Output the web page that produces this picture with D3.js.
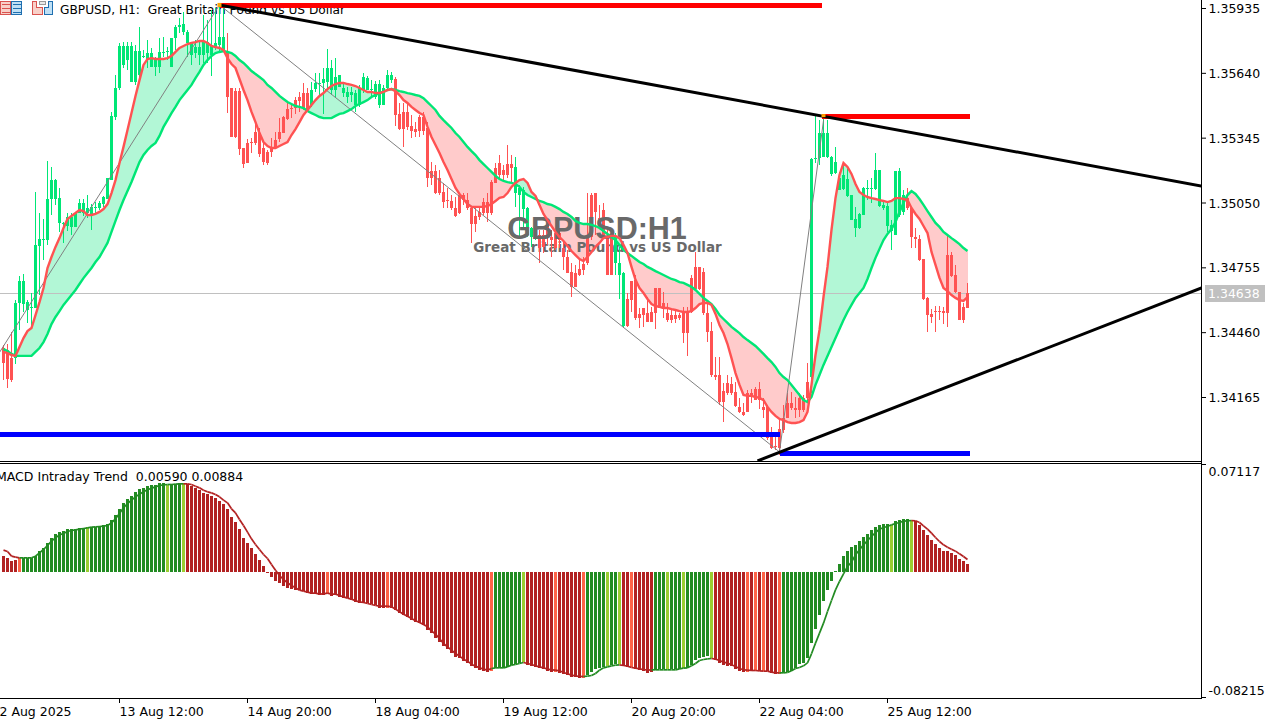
<!DOCTYPE html>
<html><head><meta charset="utf-8">
<script src="https://cdn.jsdelivr.net/npm/d3@7/dist/d3.min.js"></script>
<style>html,body{margin:0;padding:0;background:#fff;overflow:hidden}svg{display:block}
text{font-family:"DejaVu Sans",sans-serif;font-size:12.5px;fill:#000}</style>
</head><body><svg id="c" width="1279" height="723"></svg>
<script>
// prices are stored in points above 1.34000 (1 point = 0.00001)
const priceBase = 1.34;
const highs = [402,406,461,606,716,725,606,638,1098,1002,
975,1239,1212,1157,1116,961,1002,1002,1002,1066,
1066,1084,1043,1052,1057,1080,1161,1462,1630,1776,
1780,1780,1780,1767,1848,1744,1789,1753,1712,1798,
1803,1757,1798,1858,1889,1917,1835,1780,1789,1780,
1903,1880,1926,1935,1958,1949,1821,1571,1571,1571,
1298,1339,1343,1412,1389,1334,1289,1343,1371,1434,
1444,1503,1503,1530,1553,1594,1571,1598,1639,1639,
1662,1748,1698,1707,1630,1594,1576,1576,1562,1585,
1639,1626,1607,1603,1607,1585,1653,1644,1621,1503,
1503,1503,1448,1416,1448,1462,1416,1234,1221,1198,
1139,1116,1084,1075,1093,1093,1093,1025,1030,1030,
1071,1093,1152,1230,1266,1221,1312,1266,1257,1130,
1120,1029,939,970,925,925,970,925,925,925,
879,834,775,766,788,802,1093,1093,1093,1039,
1048,934,911,911,848,734,638,693,720,570,
570,620,575,661,661,643,593,561,561,547,
575,575,720,825,756,752,593,506,347,347,
229,265,256,233,160,138,197,201,210,233,
160,129,28,1,70,129,183,188,165,183,
174,320,1253,1444,1425,1430,1425,1262,1303,1189,
1230,1207,1084,1030,1002,1120,1152,1161,1275,1198,
1061,1052,970,1193,1207,1107,1116,1025,934,902,
793,620,565,579,579,575,902,825,766,643,593,684];
const opens = [388,379,342,342,593,588,561,570,570,852,
879,879,1066,1066,957,952,943,939,939,1002,
1002,1002,993,1025,1025,1043,1066,1152,1439,1571,
1676,1698,1598,1598,1630,1712,1703,1667,1667,1667,
1730,1735,1667,1798,1848,1826,1776,1721,1730,1721,
1721,1730,1721,1753,1767,1744,1735,1571,1557,1557,
1298,1321,1325,1371,1366,1298,1280,1303,1334,1371,
1439,1476,1480,1516,1530,1548,1548,1494,1566,1589,
1594,1598,1562,1562,1576,1548,1530,1539,1494,1494,
1562,1562,1562,1530,1494,1494,1571,1607,1612,1453,
1462,1462,1398,1384,1439,1439,1389,1193,1193,1161,
1098,1061,1057,1025,1084,1084,1061,1025,989,1007,
1052,1052,1143,1207,1230,1198,1225,1225,1093,1084,
1020,902,893,893,902,902,970,893,911,911,
843,802,734,729,748,770,893,1084,1093,980,
1016,893,893,775,720,488,611,693,698,543,
570,547,552,661,661,593,547,538,538,538,
547,552,706,756,756,734,547,465,265,265,
192,229,224,188,120,97,183,183,201,201,
120,120,-17,-58,19,70,138,138,115,160,
160,233,256,1248,1253,1257,1257,1180,1184,1107,
1112,1080,970,934,934,993,1112,1112,1112,1034,
1025,943,920,902,993,1007,1071,1025,893,884,
793,615,543,556,556,556,811,811,720,643,575,570];
const closes = [320,247,242,593,693,693,597,575,857,884,
884,1066,1152,1152,1071,957,984,984,1002,1048,
1048,1025,1030,1030,1048,1075,1161,1444,1571,1762,
1762,1762,1762,1739,1739,1717,1730,1730,1707,1735,
1735,1739,1798,1848,1858,1862,1826,1776,1757,1757,
1785,1780,1767,1775,1803,1803,1530,1348,1348,1293,
1225,1230,1321,1321,1271,1234,1230,1280,1298,1339,
1366,1430,1476,1480,1512,1480,1462,1562,1594,1594,
1612,1662,1662,1621,1630,1571,1553,1553,1548,1571,
1621,1616,1566,1589,1589,1571,1630,1630,1448,1384,
1384,1393,1375,1371,1375,1375,1161,1161,1093,1093,
1052,1057,1025,989,1002,1061,1025,952,952,984,
1002,1002,1002,1139,1175,1175,1175,1207,1211,1116,
1107,1025,934,970,843,848,893,879,843,879,
802,729,665,665,720,743,775,893,1007,948,
893,720,720,893,775,729,488,606,525,525,
538,506,506,547,570,565,515,515,520,525,
456,456,552,656,656,547,461,265,256,142,
142,183,183,124,97,83,97,174,151,151,
106,-22,-67,-62,-67,15,70,115,106,106,
106,160,1248,1253,1366,1366,1366,1257,1234,1161,
1175,1157,1084,975,998,1116,1116,1116,1198,1198,
1039,1034,948,1193,1193,1084,1025,893,884,788,
611,538,529,552,552,547,547,716,643,515,515,638];
const lows = [242,206,233,315,470,552,502,479,570,629,
788,857,993,1039,916,866,920,902,939,1002,
989,980,925,993,1016,1030,1066,1152,1425,1562,
1662,1653,1598,1585,1621,1707,1662,1667,1626,1639,
1712,1698,1667,1744,1821,1812,1712,1676,1707,1676,
1685,1685,1626,1744,1735,1735,1457,1348,1343,1266,
1207,1230,1275,1312,1257,1221,1221,1257,1293,1325,
1366,1425,1434,1453,1462,1471,1462,1485,1553,1539,
1453,1562,1539,1525,1576,1530,1503,1507,1462,1485,
1548,1562,1530,1521,1480,1494,1562,1594,1398,1380,
1303,1380,1343,1348,1348,1357,1120,1130,1089,1084,
1025,1025,1016,984,998,1039,1016,866,916,970,
993,961,993,1139,1161,1152,1161,1143,1029,893,
939,893,848,879,775,820,857,802,834,843,
743,729,620,665,716,720,766,879,902,939,
893,720,720,720,611,479,484,552,516,479,
484,506,506,474,570,524,506,502,502,515,
411,351,547,652,652,538,415,256,242,129,
51,174,174,120,92,79,97,138,151,110,
70,-31,-72,-76,-99,1,70,106,70,74,
97,151,183,1230,1221,1257,1253,1171,1180,1107,
1107,1075,970,893,929,993,1061,1048,1107,1030,
1016,916,834,902,984,993,1016,843,843,784,
606,461,502,461,515,497,484,711,638,515,502,570];
const fastMA = [370,365,356,352,393,433,465,479,538,597,
661,752,802,848,888,934,975,989,1002,1016,
1011,993,993,998,1007,1020,1043,1093,1152,1230,
1303,1380,1457,1535,1607,1676,1703,1707,1703,1703,
1703,1707,1717,1735,1753,1762,1771,1776,1780,1785,
1785,1776,1762,1757,1753,1744,1707,1680,1662,1612,
1562,1516,1462,1416,1366,1325,1307,1298,1298,1307,
1316,1325,1357,1384,1416,1448,1471,1494,1516,1535,
1548,1566,1580,1589,1594,1594,1589,1585,1580,1571,
1562,1553,1553,1548,1548,1553,1562,1566,1557,1539,
1516,1503,1485,1471,1457,1448,1394,1348,1312,1275,
1234,1198,1157,1116,1089,1066,1043,1030,1030,1030,
1030,1034,1043,1057,1071,1075,1093,1121,1139,1152,
1157,1139,1098,1080,1039,998,970,943,916,893,
875,852,829,811,793,784,802,825,848,866,
888,893,898,898,888,857,820,757,698,661,
638,611,588,579,575,570,570,565,561,556,
552,552,556,570,588,593,593,584,543,493,
456,406,342,274,220,174,170,170,165,161,
151,120,97,79,65,60,51,47,47,51,
60,97,220,356,470,620,757,925,1070,1175,
1230,1212,1180,1134,1098,1084,1075,1070,1066,1061,
1057,1052,1057,1070,1070,1066,1061,1025,998,975,
943,911,825,766,707,661,647,629,616,606,602,620];
const slowMA = [383,374,361,352,352,352,352,352,370,388,
415,452,497,529,556,584,606,629,652,679,
706,729,752,779,802,834,866,916,966,1016,
1061,1102,1143,1189,1234,1266,1289,1307,1321,1353,
1394,1425,1457,1485,1516,1539,1562,1585,1616,1644,
1676,1698,1717,1730,1735,1739,1735,1730,1717,1698,
1685,1667,1648,1635,1621,1607,1585,1571,1553,1535,
1521,1507,1498,1489,1485,1480,1466,1457,1448,1439,
1434,1434,1434,1444,1453,1457,1466,1475,1489,1498,
1507,1516,1530,1539,1548,1553,1562,1566,1562,1557,
1553,1548,1544,1539,1535,1525,1507,1489,1471,1444,
1425,1407,1389,1366,1348,1325,1303,1284,1266,1243,
1225,1207,1189,1171,1157,1148,1143,1139,1134,1121,
1098,1084,1075,1066,1057,1052,1043,1039,1030,1020,
1007,998,984,966,957,952,952,948,943,934,
920,907,893,879,857,834,820,807,793,779,
770,757,748,738,729,720,711,702,697,688,
684,675,666,652,634,616,602,588,566,538,
520,502,484,470,456,438,424,411,397,379,
361,342,324,302,274,256,242,220,197,174,
151,142,165,220,265,311,352,393,433,474,
515,552,584,616,638,661,702,752,798,839,
879,907,929,961,1007,1048,1084,1102,1089,1066,
1039,1011,984,957,939,916,902,888,875,861,843,829];
// candle colour runs: [bar count, trend]
const candleTrendRuns = [[3,"down"],[53,"up"],[21,"down"],[21,"up"],[30,"down"],[6,"up"],[19,"down"],[3,"up"],[46,"down"],[24,"up"],[16,"down"]];
// MACD values in 0.00001 units
const macdHist = [1120,1003,770,817,957,1003,1003,1003,1120,1470,
1703,2053,2403,2637,2823,2870,2987,2987,3033,3057,
3103,3150,3150,3150,3220,3267,3337,3617,3967,4433,
4853,5133,5320,5623,5787,5903,6020,6090,6090,6207,
6207,6067,6137,6137,6207,6207,6137,6020,5857,5717,
5553,5437,5320,5157,4970,4737,4387,3873,3500,3033,
2403,2053,1703,1237,817,420,25,-327,-630,-747,
-980,-1097,-1213,-1260,-1283,-1330,-1447,-1517,-1517,-1610,
-1610,-1517,-1657,-1610,-1727,-1797,-1843,-1960,-2077,-2147,
-2147,-2193,-2263,-2310,-2497,-2497,-2497,-2497,-2660,-2847,
-3010,-3127,-3360,-3523,-3593,-3710,-4060,-4293,-4597,-4877,
-5180,-5390,-5647,-5927,-6043,-6230,-6347,-6580,-6743,-6860,
-6930,-6977,-6930,-6743,-6743,-6743,-6627,-6510,-6463,-6393,
-6323,-6510,-6557,-6627,-6743,-6790,-6907,-6977,-6977,-7047,
-7140,-7210,-7327,-7373,-7443,-7443,-7210,-6977,-6813,-6743,
-6673,-6580,-6510,-6440,-6463,-6580,-6627,-6673,-6813,-6860,
-6907,-7047,-7000,-6837,-6790,-6790,-6790,-6790,-6790,-6767,
-6697,-6697,-6487,-6183,-5997,-5950,-5903,-6020,-6183,-6370,
-6533,-6557,-6603,-6790,-6953,-7000,-7023,-6907,-6907,-6907,
-6907,-6907,-7070,-7140,-7140,-7070,-7023,-6953,-6720,-6417,
-6370,-6043,-4970,-3967,-3033,-2053,-1283,-607,93,583,
1097,1447,1727,1867,2147,2427,2660,2917,3173,3313,
3383,3383,3313,3593,3663,3733,3733,3663,3593,3313,
2963,2613,2263,1983,1680,1447,1447,1330,1213,933,747,590];
const macdSignal = [1540,1447,1120,1050,1003,1003,1003,1003,1120,1353,
1587,1867,2170,2403,2613,2707,2847,2917,2963,3010,
3057,3103,3150,3173,3197,3220,3267,3453,3733,4107,
4503,4807,5040,5273,5460,5623,5763,5880,5973,6067,
6113,6137,6137,6160,6183,6183,6183,6137,6020,5903,
5740,5623,5553,5437,5273,5040,4853,4433,4153,3687,
3267,2800,2333,1937,1587,1237,957,537,140,-233,
-513,-747,-933,-1097,-1260,-1330,-1400,-1470,-1470,-1540,
-1517,-1470,-1540,-1540,-1633,-1727,-1820,-1890,-2007,-2077,
-2123,-2193,-2263,-2333,-2380,-2380,-2380,-2427,-2590,-2777,
-2940,-3080,-3243,-3407,-3523,-3663,-3827,-4107,-4340,-4643,
-4993,-5227,-5460,-5693,-5880,-6090,-6230,-6440,-6580,-6697,
-6790,-6860,-6743,-6697,-6697,-6697,-6627,-6510,-6463,-6393,
-6323,-6393,-6463,-6557,-6627,-6697,-6790,-6837,-6860,-6907,
-7023,-7117,-7210,-7257,-7303,-7303,-7280,-7233,-7093,-6860,
-6697,-6627,-6557,-6510,-6487,-6533,-6580,-6673,-6720,-6767,
-6813,-6860,-6837,-6837,-6837,-6837,-6837,-6837,-6837,-6767,
-6720,-6697,-6557,-6393,-6183,-6113,-6067,-6043,-6090,-6183,
-6300,-6370,-6487,-6603,-6743,-6837,-6860,-6883,-6883,-6907,
-6930,-6930,-7000,-7047,-7047,-7047,-7023,-6907,-6743,-6673,
-6557,-6347,-5717,-4970,-4270,-3570,-2753,-1983,-1237,-653,
-117,397,700,1213,1563,1913,2217,2497,2777,3010,
3127,3197,3313,3407,3477,3570,3593,3617,3593,3477,
3243,3010,2730,2427,2147,1913,1750,1610,1470,1283,1097,884];
// MACD bar state runs: R falling strong, T falling weak, G rising strong, Y rising weak
const macdStateRuns = [[4,"R"],[1,"T"],[16,"G"],[1,"Y"],[19,"G"],[1,"Y"],[3,"G"],[1,"Y"],[35,"R"],[1,"T"],[14,"R"],[1,"T"],[25,"R"],[1,"T"],[7,"G"],[1,"Y"],[7,"R"],[1,"T"],[6,"R"],[1,"T"],[5,"G"],[1,"Y"],[2,"G"],[1,"Y"],[2,"R"],[1,"T"],[5,"R"],[3,"G"],[1,"Y"],[3,"G"],[1,"Y"],[6,"G"],[1,"Y"],[8,"R"],[1,"T"],[1,"R"],[1,"T"],[1,"R"],[1,"T"],[3,"R"],[1,"T"],[27,"G"],[1,"Y"],[4,"G"],[1,"Y"],[14,"R"]];
const priceTicks = [1.35935,1.3564,1.35345,1.3505,1.34755,1.3446,1.34165];
const macdTicks = [0.07117,-0.08215];
const timeTickIndex = [-3,29,61,93,125,157,189,221];
const timeTickLabels = ["12 Aug 2025","13 Aug 12:00","14 Aug 20:00","18 Aug 04:00","19 Aug 12:00","20 Aug 20:00","22 Aug 04:00","25 Aug 12:00"];
const zigzagIndex = [-1,54,194,205];
const zigzagPts = [368,1949,-85,1423];
const supportBars = [[-1,194,-3],[194,241.5,-90]];
const resistBars = [[54,204.5,1949],[204.5,241.5,1443]];
const trendLines = [[54,1949,299.5,1125],[188.5,-126,299.5,661]];
const bidPts = 638;
const hist = macdHist.map(v=>v/1e5), sig = macdSignal.map(v=>v/1e5);
const P = v=>priceBase+v/1e5;
const expand = r=>d3.merge(r.map(([n,s])=>d3.range(n).map(()=>s)));
const trend = expand(candleTrendRuns), states = expand(macdStateRuns);

const GREEN="#00E676",RED="#FF5252",GFILL="#B2F7D6",RFILL="#FFCBCB";
const stateColor={R:"#B22222",T:"#FF6347",G:"#228B22",Y:"#9ACD32"};
const svg=d3.select("#c");
const X=1201, TOP_B=461, LOW_T=464, LOW_B=698;
const x=d3.scaleLinear().domain([0,241]).range([3,967]);
const y=d3.scaleLinear().domain([1.35935,1.34165]).range([8,397]);
const ym=d3.scaleLinear().domain([0.07117,-0.08215]).range([470.5,689.5]);
const fmt=d3.format(".5f"), asciiFmt=v=>fmt(v).replace("\u2212","-");
const defs=svg.append("defs");
defs.append("clipPath").attr("id","p1").append("rect").attr("x",0).attr("y",0).attr("width",X).attr("height",TOP_B);
defs.append("clipPath").attr("id","p2").append("rect").attr("x",0).attr("y",LOW_T).attr("width",X).attr("height",LOW_B-LOW_T);
const g=svg.append("g").attr("clip-path","url(#p1)");
const cx=i=>x(i)+0.5;

// filled band between moving averages
const band=d3.area().x(d=>cx(d.i)).y0(d=>y(P(d.f))).y1(d=>y(P(d.s)));
d3.range(241).forEach(i=>{
  const a={i,f:fastMA[i],s:slowMA[i]},b={i:i+1,f:fastMA[i+1],s:slowMA[i+1]};
  const up=(a.f+b.f)>=(a.s+b.s);
  g.append("path").attr("d",band([a,b])).attr("fill",up?GFILL:RFILL).attr("shape-rendering","crispEdges");
});
// bid line
g.append("line").attr("x1",0).attr("x2",X).attr("y1",Math.floor(y(P(bidPts)))+0.5).attr("y2",Math.floor(y(P(bidPts)))+0.5).attr("stroke","#C0C0C0");
// subtitle + header sit under the candles
g.append("text").attr("x",597.5).attr("y",251.5).attr("text-anchor","middle").style("font-family","'DejaVu Sans'").style("font-weight","bold").style("font-size","13.5px").style("fill","#696969").text("Great Britain Pound vs US Dollar");
g.append("text").attr("x",60).attr("y",14).style("font-size","12.2px").attr("xml:space","preserve").text("GBPUSD, H1:  Great Britain Pound vs US Dollar");

// candles
const cg=g.append("g").attr("shape-rendering","crispEdges");
d3.range(242).forEach(i=>{
  const c=trend[i]==="up"?GREEN:RED;
  const yh=y(P(highs[i])),yl=y(P(lows[i]));
  const t=y(P(Math.max(opens[i],closes[i]))),b=y(P(Math.min(opens[i],closes[i])));
  cg.append("rect").attr("x",x(i)).attr("y",yh).attr("width",1).attr("height",Math.max(1,yl-yh)).attr("fill",c);
  cg.append("rect").attr("x",x(i)-1).attr("y",t).attr("width",3).attr("height",Math.max(1,b-t)).attr("fill",c);
});
// title above candles, below lines
g.append("text").attr("x",597).attr("y",239).attr("text-anchor","middle").style("font-family","'Liberation Sans'").style("font-weight","bold").style("font-size","30.5px").style("fill","#696969").text("GBPUSD:H1");
// zigzag
g.append("path").attr("fill","none").attr("stroke","#808080").attr("stroke-width",1)
 .attr("d",d3.line().x((d,k)=>cx(zigzagIndex[k])).y(d=>y(P(d)))(zigzagPts));
// moving averages
const ma=d3.line().x((d,i)=>cx(i)).y(d=>y(P(d)));
g.append("path").attr("fill","none").attr("stroke",GREEN).attr("stroke-width",2.4).attr("d",ma(slowMA));
g.append("path").attr("fill","none").attr("stroke",RED).attr("stroke-width",2.4).attr("d",ma(fastMA));
// level bars
const lv=(arr,col)=>arr.forEach(([a,b,v])=>g.append("rect").attr("x",cx(a)).attr("y",y(P(v))-2).attr("width",cx(b)-cx(a)).attr("height",5).attr("fill",col).attr("shape-rendering","crispEdges"));
lv(resistBars,"#FF0000"); lv(supportBars,"#0000FF");
// trend lines
trendLines.forEach(([a,p,b,q])=>g.append("line").attr("x1",cx(a)).attr("y1",y(P(p))).attr("x2",cx(b)).attr("y2",y(P(q))).attr("stroke","#000").attr("stroke-width",3));
// pivot markers
g.append("rect").attr("x",cx(54)-2).attr("y",y(P(1949))-2).attr("width",4).attr("height",4).attr("fill","#FFA500");
g.append("rect").attr("x",cx(205)-2).attr("y",y(P(1443))-2).attr("width",4).attr("height",3).attr("fill","#FFA500");

// header icons
const ic=svg.append("g").attr("shape-rendering","crispEdges");
[[0,"#F8D0C8","#D9534F"],[11,"#BFE0F5","#1F6FB0"]].forEach(([x0,f,s])=>{
  ic.append("rect").attr("x",x0+0.5).attr("y",1.5).attr("width",10).attr("height",13).attr("fill",f).attr("stroke",s);
  [4,8,12].forEach(v=>ic.append("line").attr("x1",x0+2).attr("x2",x0+10).attr("y1",v+0.5).attr("y2",v+0.5).attr("stroke",s));
});
ic.append("path").attr("d","M32.5 4.5V14.5H42.5V7.5H36.5V1.5H32.5Z").attr("fill","#F8D0C8").attr("stroke","#D9534F");
ic.append("path").attr("d","M44.5 14.5H52.5V1.5H48.5V7.5H44.5Z").attr("fill","#BFE0F5").attr("stroke","#1F6FB0");
ic.append("rect").attr("x",39.5).attr("y",1.5).attr("width",6).attr("height",3).attr("fill","#E8E8E8").attr("stroke","#999");

// MACD panel
const m=svg.append("g").attr("clip-path","url(#p2)");
const mb=m.append("g").attr("shape-rendering","crispEdges");
d3.range(242).forEach(i=>{
  const a=ym(hist[i]),z=ym(0);
  mb.append("rect").attr("x",x(i)-1).attr("y",Math.min(a,z)).attr("width",3).attr("height",Math.max(1,Math.abs(a-z))).attr("fill",stateColor[states[i]]);
});
const ml=d3.line().x(d=>cx(d.i)).y(d=>ym(d.v));
d3.range(241).forEach(i=>{
  const up=states[i+1]==="G"||states[i+1]==="Y";
  m.append("path").attr("fill","none").attr("stroke",up?"#228B22":"#B22222").attr("stroke-width",1.7)
   .attr("d",ml([{i,v:sig[i]},{i:i+1,v:sig[i+1]}]));
});
m.append("text").attr("x",-4).attr("y",481).attr("xml:space","preserve").text("MACD Intraday Trend  "+fmt(hist[241])+" "+fmt(sig[241]));

// frame
const fr=svg.append("g").attr("shape-rendering","crispEdges");
fr.append("line").attr("x1",0).attr("x2",X).attr("y1",461.5).attr("y2",461.5).attr("stroke","#000");
fr.append("line").attr("x1",0).attr("x2",X).attr("y1",463.5).attr("y2",463.5).attr("stroke","#000");
fr.append("line").attr("x1",0).attr("x2",X).attr("y1",698.5).attr("y2",698.5).attr("stroke","#000");
fr.append("line").attr("x1",X+0.5).attr("x2",X+0.5).attr("y1",0).attr("y2",699).attr("stroke","#000");

// axes
const ax=svg.append("g").attr("transform",`translate(${X+1},0)`)
  .call(d3.axisRight(y).tickValues(priceTicks).tickSize(4).tickPadding(3).tickFormat(fmt));
ax.select(".domain").remove();
ax.selectAll("text").attr("x",6.5).attr("dy","0.36em");
const ax2=svg.append("g").attr("transform",`translate(${X+1},0)`)
  .call(d3.axisRight(ym).tickValues(macdTicks).tickSize(0).tickFormat(asciiFmt));
ax2.select(".domain").remove();
ax2.selectAll("text").attr("x",6.5).attr("dy","0.36em");
fr.append("line").attr("x1",X+1).attr("x2",X+5).attr("y1",464.5).attr("y2",464.5).attr("stroke","#000");
fr.append("line").attr("x1",X+1).attr("x2",X+5).attr("y1",697.5).attr("y2",697.5).attr("stroke","#000");
const tick=d3.scaleOrdinal().domain(timeTickIndex).range(timeTickLabels);
const bx=svg.append("g").attr("transform","translate(0,699)")
  .call(d3.axisBottom(x).tickValues(timeTickIndex).tickSize(4).tickFormat(d=>tick(d)));
bx.select(".domain").remove();
bx.selectAll("text").attr("text-anchor","start").attr("x",0).attr("y",8);
// bid label
svg.append("rect").attr("x",1205).attr("y",285).attr("width",60).attr("height",17).attr("fill","#C0C0C0");
svg.append("text").attr("x",1208).attr("y",298).style("fill","#fff").text(fmt(P(bidPts)));
</script></body></html>
